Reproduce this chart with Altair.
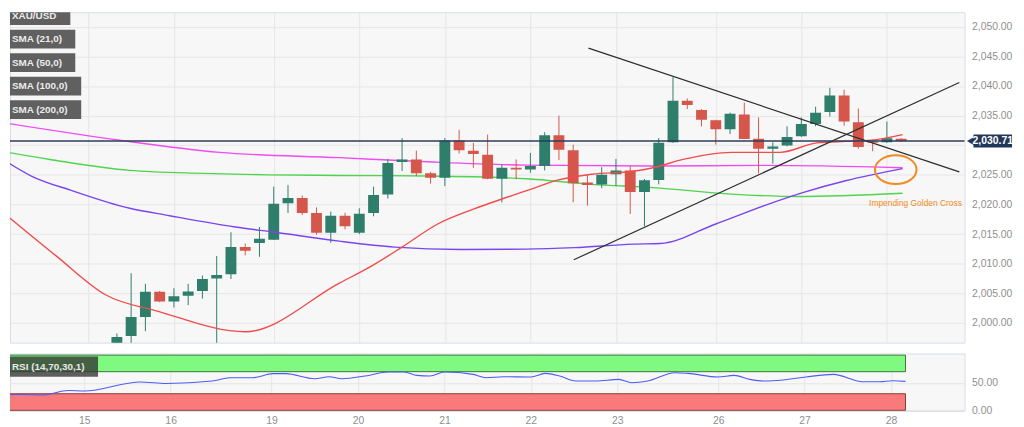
import altair as alt
import pandas as pd

# ---------------- data ----------------
candle_idx = list(range(8, 64))
opens = [1994.0, 1997.8, 2001.0, 2005.25, 2003.6, 2004.6, 2005.4, 2007.5, 2008.2, 2012.8,
         2013.5, 2014.05, 2020.2, 2021.1, 2018.55, 2015.2, 2018.1, 2015.2, 2018.55, 2021.7,
         2027.15, 2027.6, 2025.25, 2024.5, 2030.8, 2029.05, 2028.4, 2024.35, 2026.2, 2025.9,
         2026.5, 2031.7, 2029.15, 2023.7, 2023.35, 2025.1, 2025.75, 2022.1, 2024.15, 2030.5,
         2037.5, 2035.95, 2034.2, 2032.7, 2035.2, 2031.1, 2029.4, 2029.95, 2031.5, 2033.6,
         2035.6, 2038.4, 2033.9, 2030.65, 2030.5, 2031.1]
highs = [1998.2, 2008.4, 2006.6, 2005.4, 2005.85, 2006.6, 2008.0, 2011.3, 2015.3, 2013.4,
         2016.2, 2023.0, 2023.25, 2021.5, 2019.5, 2018.8, 2018.6, 2019.35, 2023.0, 2027.7,
         2031.2, 2029.1, 2025.5, 2031.2, 2032.6, 2030.4, 2031.8, 2026.75, 2027.6, 2028.7,
         2032.2, 2035.0, 2030.1, 2025.0, 2026.3, 2027.7, 2026.5, 2024.3, 2031.2, 2041.5,
         2037.9, 2036.1, 2034.3, 2035.5, 2037.2, 2034.7, 2030.5, 2033.2, 2034.7, 2036.5,
         2039.7, 2039.4, 2036.2, 2030.9, 2034.0, 2031.2]
lows = [1993.0, 1996.0, 1998.6, 2003.5, 2002.6, 2003.0, 2004.1, 1996.5, 2007.4, 2011.4,
        2011.15, 2014.0, 2018.55, 2018.2, 2014.9, 2013.5, 2015.8, 2015.0, 2018.0, 2021.0,
        2025.65, 2024.8, 2023.5, 2023.1, 2028.6, 2026.2, 2024.25, 2020.35, 2024.25, 2025.35,
        2025.75, 2027.5, 2020.35, 2019.8, 2022.75, 2023.1, 2018.4, 2016.3, 2023.4, 2030.4,
        2036.1, 2033.2, 2030.1, 2031.9, 2031.05, 2025.25, 2026.9, 2029.8, 2031.4, 2033.2,
        2034.85, 2033.3, 2029.4, 2029.0, 2030.4, 2030.55]
closes = [1997.6, 2001.0, 2005.25, 2003.6, 2004.5, 2005.3, 2007.4, 2008.1, 2012.8, 2012.2,
          2014.2, 2020.1, 2021.1, 2018.55, 2015.2, 2018.1, 2016.3, 2018.45, 2021.6, 2027.0,
          2027.6, 2025.25, 2024.5, 2030.8, 2029.15, 2028.5, 2024.35, 2026.2, 2025.9, 2026.5,
          2031.7, 2029.25, 2023.6, 2023.3, 2025.0, 2025.75, 2022.1, 2024.1, 2030.4, 2037.5,
          2036.8, 2034.3, 2032.7, 2035.3, 2031.05, 2029.4, 2029.8, 2031.4, 2033.6, 2035.5,
          2038.4, 2034.0, 2029.7, 2030.4, 2031.2, 2030.71]

day_tick_idx = [0, 6, 12, 19, 25, 31, 37, 43, 50, 56, 62]
day_labels = ["14", "15", "16", "19", "20", "21", "22", "23", "26", "27", "28"]
price_grid = [2000, 2005, 2010, 2015, 2020, 2025, 2030, 2035, 2040, 2045, 2050]

sma21_x = [0.3, 3.7, 7.2, 10.9, 17.0, 23.6, 26.0, 28.0, 30.5, 33.0, 35.1, 37.0, 38.9, 41.3,
           44.2, 45.6, 47.7, 51.1, 54.5, 57.1, 59.1, 60.7, 63.1]
sma21_v = [2018.1, 2011.4, 2004.75, 2001.95, 1998.5, 2006.7, 2009.8, 2012.8, 2016.7, 2019.2,
           2021.0, 2022.55, 2024.1, 2025.1, 2025.6, 2026.2, 2027.6, 2028.8, 2028.8, 2030.4,
           2030.65, 2030.8, 2031.8]
sma50_x = [0.3, 2.0, 4.9, 8.9, 11.7, 16.3, 19.1, 23.6, 27.5, 32.1, 36.7, 40.1, 44.2, 46.1,
           50.0, 53.4, 56.1, 59.1, 63.1]
sma50_v = [2027.15, 2024.8, 2022.3, 2019.35, 2018.1, 2016.2, 2015.3, 2013.8, 2012.8, 2012.4,
           2012.45, 2012.7, 2013.3, 2013.4, 2016.7, 2019.8, 2022.0, 2024.0, 2026.05]
sma100_x = [0.3, 3.3, 8.9, 14.0, 18.6, 23.6, 29.8, 36.7, 41.3, 45.6, 51.1, 55.7, 63.1]
sma100_v = [2028.8, 2027.6, 2025.75, 2025.25, 2025.0, 2024.9, 2024.8, 2024.35, 2023.4,
            2022.85, 2021.75, 2021.35, 2021.9]
sma200_x = [0.3, 7.9, 15.2, 23.6, 29.8, 36.7, 45.6, 53.4, 63.1]
sma200_v = [2033.7, 2030.95, 2028.8, 2027.9, 2027.2, 2026.65, 2026.5, 2026.6, 2026.2]

trend_down_x = [41.07, 67.08]
trend_down_v = [2046.4, 2025.5]
trend_up_x = [40.04, 67.08]
trend_up_v = [2010.65, 2040.6]

last_price = 2030.71

rsi_x = [0.3, 1.7, 3.1, 4.9, 6.0, 9.9, 11.7, 14.9, 16.1, 17.7, 19.1, 20.0, 22.0, 23.0, 23.9,
         25.5, 27.1, 28.2, 29.1, 30.0, 31.0, 33.0, 33.9, 35.1, 37.0, 38.0, 39.0, 40.1, 41.5,
         43.1, 44.0, 45.1, 47.0, 47.9, 50.0, 51.1, 52.2, 53.2, 54.5, 56.1, 58.0, 60.0, 61.2,
         62.1, 63.0]
rsi_v = [27.6, 28.7, 27.6, 36.0, 34.9, 51.3, 48.7, 53.1, 59.1, 59.1, 66.4, 66.4, 57.3, 60.9,
         57.3, 62.2, 69.5, 69.5, 63.3, 62.2, 69.5, 65.1, 59.1, 60.9, 60.4, 66.9, 62.2, 53.1,
         53.1, 56.0, 50.0, 53.1, 68.2, 66.9, 60.4, 63.3, 56.0, 53.1, 54.9, 60.4, 65.1, 51.8,
         51.8, 53.6, 52.4]
rsi_upper = 70
rsi_lower = 30

legend_labels = ["XAU/USD", "SMA (21,0)", "SMA (50,0)", "SMA (100,0)", "SMA (200,0)"]
rsi_label = "RSI (14,70,30,1)"
cross_idx = 62.62
cross_price = 2025.87
note_idx = 60.75
note_price = 2020.18
note_text = "Impending  Golden Cross"

# ---------------- styling / layout ----------------
W = 965
H_MAIN = 334
H_RSI = 58
X_DOMAIN = [0.85, 67.1]
Y_DOMAIN = [1996.66, 2052.46]
RSI_DOMAIN = [-1.1, 102.9]
GREEN = "#2f7d6b"
RED = "#d5574b"
FONT = "Liberation Sans"

label_expr = "".join(
    f"datum.value == {v} ? '{t}' : " for v, t in zip(day_tick_idx, day_labels)
) + "''"
# the 2,030.00 label sits under the last-price tag in the reference
price_label_expr = f"abs(datum.value - {last_price}) < 2 ? '' : format(datum.value, ',.2f')"

XS = alt.Scale(domain=X_DOMAIN, nice=False, zero=False)
YS = alt.Scale(domain=Y_DOMAIN, nice=False, zero=False)
RS = alt.Scale(domain=RSI_DOMAIN, nice=False, zero=False)


def X(field):
    return alt.X(f"{field}:Q", scale=XS,
                 axis=alt.Axis(values=day_tick_idx, labels=False, ticks=False, tickSize=0,
                               domain=False, grid=True, title=None))


def XR(field):
    return alt.X(f"{field}:Q", scale=XS,
                 axis=alt.Axis(values=day_tick_idx, labelExpr=label_expr, ticks=False,
                               tickSize=0, domain=False, grid=True, title=None,
                               labelPadding=5, labelFontSize=10.5))


def Y(field):
    return alt.Y(f"{field}:Q", scale=YS,
                 axis=alt.Axis(orient="right", values=price_grid, labelExpr=price_label_expr,
                               ticks=False, tickSize=0, domain=False, labelPadding=7,
                               grid=True, title=None))


def YR(field):
    return alt.Y(f"{field}:Q", scale=RS,
                 axis=alt.Axis(orient="right", values=[0, 50], format=".2f", ticks=False,
                               tickSize=0, domain=False, labelPadding=7, grid=True,
                               title=None))


# ---------------- main panel ----------------
cd = pd.DataFrame({"i": candle_idx, "o": opens, "h": highs, "l": lows, "c": closes})
cbase = alt.Chart(cd)
ccolor = alt.condition("datum.c >= datum.o", alt.value(GREEN), alt.value(RED))
wicks = cbase.mark_rule(strokeWidth=1, clip=True).encode(x=X("i"), y=Y("l"), y2="h", color=ccolor)
bodies = cbase.mark_bar(size=11, clip=True).encode(x=X("i"), y=Y("o"), y2="c", color=ccolor)


def sma_layer(xs, vs, color):
    df = pd.DataFrame({"i": xs, "v": vs})
    return alt.Chart(df).mark_line(strokeWidth=1.4, clip=True, interpolate="monotone",
                                   color=color).encode(x=X("i"), y=Y("v"), order="i:Q")


sma200 = sma_layer(sma200_x, sma200_v, "#f04cf0")
sma100 = sma_layer(sma100_x, sma100_v, "#4fd44f")
sma50 = sma_layer(sma50_x, sma50_v, "#7a45ee")
sma21 = sma_layer(sma21_x, sma21_v, "#f24b4b")

trend_df = pd.DataFrame({
    "i": trend_down_x + trend_up_x,
    "v": trend_down_v + trend_up_v,
    "t": ["down"] * len(trend_down_x) + ["up"] * len(trend_up_x),
})
trends = alt.Chart(trend_df).mark_line(strokeWidth=1.2, color="#2e2e2e", clip=True).encode(
    x=X("i"), y=Y("v"), detail="t:N")

price_df = pd.DataFrame({"p": [last_price]})
price_line = alt.Chart(price_df).mark_rule(strokeWidth=1.5, color="#2b3d5b").encode(y=Y("p"))
tag_base = alt.Chart(price_df).transform_calculate(p0="datum.p - 1.09", p1="datum.p + 1.09",
                                                   txt="format(datum.p, ',.2f')")
tag_rect = tag_base.mark_rect(color="#22385a").encode(
    x=alt.value(974), x2=alt.value(1013), y=Y("p0"), y2="p1")
tag_arrow = tag_base.mark_point(shape="triangle-left", filled=True, size=70, color="#22385a",
                                opacity=1).encode(x=alt.value(971), y=Y("p"))
tag_text = tag_base.mark_text(color="white", font=FONT, fontSize=10.5, fontWeight="bold",
                              align="center", baseline="middle").encode(
    x=alt.value(993.5), y=Y("p"), text="txt:N")

ell_df = pd.DataFrame({"i": [cross_idx], "p": [cross_price]})
ellipse_path = ("M -1 0 C -1 -0.381 -0.552 -0.69 0 -0.69 C 0.552 -0.69 1 -0.381 1 0 "
                "C 1 0.381 0.552 0.69 0 0.69 C -0.552 0.69 -1 0.381 -1 0 Z")
ellipse = alt.Chart(ell_df).mark_point(shape=ellipse_path, size=1764, filled=False,
                                       strokeWidth=2, color="#f28a24", opacity=1).encode(
    x=X("i"), y=Y("p"))
note_df = pd.DataFrame({"i": [note_idx], "p": [note_price], "t": [note_text]})
note = alt.Chart(note_df).mark_text(align="left", baseline="middle", color="#f28a24",
                                    font="Liberation Sans Narrow, Arial Narrow, Liberation Sans",
                                    fontSize=8.5).encode(x=X("i"), y=Y("p"), text="t:N")

leg_df = pd.DataFrame({"label": legend_labels, "k": list(range(len(legend_labels)))})
leg_base = alt.Chart(leg_df).transform_calculate(
    y0="max(0, -6 + 23.75 * datum.k)",
    y1="13 + 23.75 * datum.k",
    yc="3.5 + 23.75 * datum.k",
    x0="0",
    x1="datum.k == 0 ? 61 : (datum.k < 3 ? 66 : 72)",
)
leg_rect = leg_base.mark_rect(color="#606060").encode(
    x=alt.X("x0:Q", scale=None), x2="x1:Q", y=alt.Y("y0:Q", scale=None), y2="y1:Q")
leg_text = leg_base.mark_text(align="left", baseline="middle", font=FONT, fontSize=10,
                              fontWeight="bold", color="#ececec").encode(
    x=alt.value(2), y=alt.Y("yc:Q", scale=None), text="label:N")

main = alt.layer(
    sma200, sma100, wicks, bodies, sma50, sma21, trends, price_line, ellipse, note,
    tag_rect, tag_arrow, tag_text, leg_rect, leg_text
).properties(width=W, height=H_MAIN)

# ---------------- RSI panel ----------------
band_end = candle_idx[-1]
ob_df = pd.DataFrame({"x0": [0], "x1": [band_end], "lo": [rsi_upper], "hi": [100]})
os_df = pd.DataFrame({"x0": [0], "x1": [band_end], "lo": [0], "hi": [rsi_lower]})
ob_band = alt.Chart(ob_df).mark_rect(color="#7ff97f", stroke="#3a7a3a", strokeWidth=1,
                                     clip=True).encode(x=XR("x0"), x2="x1", y=YR("lo"), y2="hi")
os_band = alt.Chart(os_df).mark_rect(color="#f97a7a", stroke="#8a3a3a", strokeWidth=1,
                                     clip=True).encode(x=XR("x0"), x2="x1", y=YR("lo"), y2="hi")
rsi_df = pd.DataFrame({"i": rsi_x, "r": rsi_v})
rsi_line = alt.Chart(rsi_df).mark_line(color="#4d5cf2", strokeWidth=1.1, clip=True,
                                       interpolate="monotone").encode(
    x=XR("i"), y=YR("r"), order="i:Q")
rl_df = pd.DataFrame({"t": [rsi_label]})
rsi_box = alt.Chart(rl_df).mark_rect(color="#333333", opacity=0.78).encode(
    x=alt.value(0), x2=alt.value(89), y=alt.value(3), y2=alt.value(23.5))
rsi_text = alt.Chart(rl_df).mark_text(align="left", baseline="middle", font=FONT, fontSize=10,
                                      fontWeight="bold", color="#e8e8e8").encode(
    x=alt.value(2), y=alt.value(13.5), text="t:N")

rsi = alt.layer(ob_band, os_band, rsi_line, rsi_box, rsi_text).properties(width=W, height=H_RSI)

chart = (
    alt.vconcat(main, rsi, spacing=9)
    .resolve_scale(x="independent", y="independent")
    .properties(padding={"left": 0, "top": 0, "right": 2, "bottom": 0}, background="white")
    .configure_view(fill="#f7f7f7", stroke="#d8dee8", strokeWidth=1)
    .configure_axis(labelFont=FONT, labelFontSize=10.5, labelColor="#8f8f8f",
                    gridColor="#e6e6e6", gridWidth=1)
)

chart.save("out.html", embed_options={"renderer": "svg", "actions": False})
